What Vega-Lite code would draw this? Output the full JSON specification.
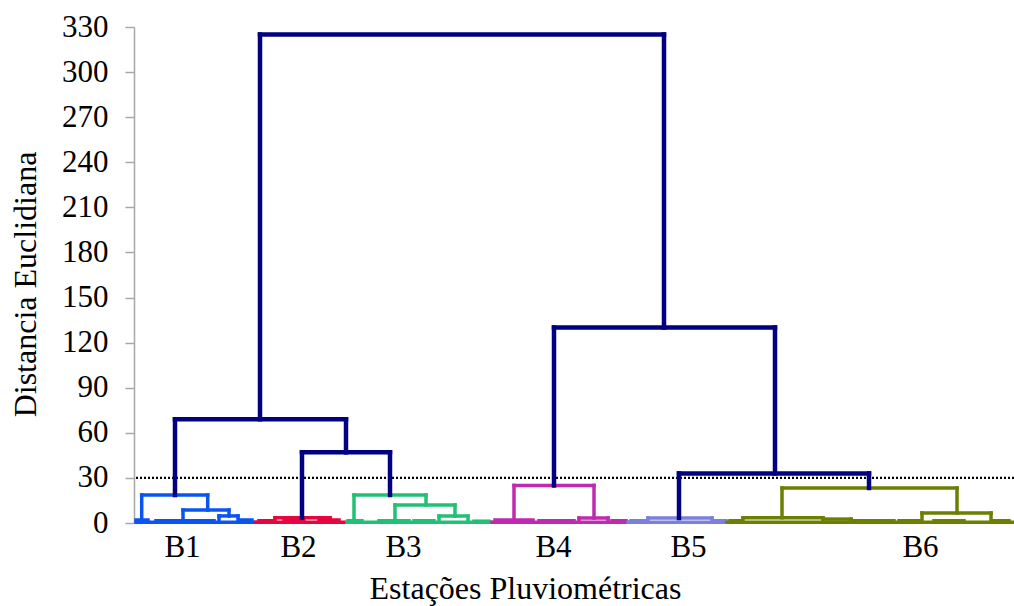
{
  "$schema": "https://vega.github.io/schema/vega-lite/v6.json",
  "width": 880,
  "height": 496,
  "autosize": "none",
  "padding": {"left": 134, "top": 27, "right": 0, "bottom": 83},
  "background": "white",
  "config": {
    "view": {"stroke": null},
    "font": "Liberation Serif",
    "axis": {"labelFont": "Liberation Serif", "titleFont": "Liberation Serif", "labelColor": "black", "titleColor": "black", "titleFontWeight": "normal", "grid": false}
  },
  "datasets": {
    "segs": [
      {"g":"main","x":126,"x2":530,"y":325,"y2":325},
      {"g":"main","x":126,"x2":126,"y":325,"y2":69},
      {"g":"main","x":530,"x2":530,"y":325,"y2":130},
      {"g":"main","x":41,"x2":212,"y":69,"y2":69},
      {"g":"main","x":41,"x2":41,"y":69,"y2":18.6},
      {"g":"main","x":212,"x2":212,"y":69,"y2":47},
      {"g":"main","x":168,"x2":256,"y":47,"y2":47},
      {"g":"main","x":168,"x2":168,"y":47,"y2":3.5},
      {"g":"main","x":256,"x2":256,"y":47,"y2":18.6},
      {"g":"main","x":420,"x2":641,"y":130,"y2":130},
      {"g":"main","x":420,"x2":420,"y":130,"y2":25},
      {"g":"main","x":641,"x2":641,"y":130,"y2":33},
      {"g":"main","x":545,"x2":735,"y":33,"y2":33},
      {"g":"main","x":545,"x2":545,"y":33,"y2":3.3},
      {"g":"main","x":735,"x2":735,"y":33,"y2":23.3},

      {"g":"B1","x":2,"x2":122,"y":0.5,"y2":0.5},
      {"g":"B1","x":7.7,"x2":73.7,"y":18.6,"y2":18.6},
      {"g":"B1","x":7.7,"x2":7.7,"y":18.6,"y2":2},
      {"g":"B1","x":73.7,"x2":73.7,"y":18.6,"y2":8.6},
      {"g":"B1","x":49,"x2":95,"y":8.6,"y2":8.6},
      {"g":"B1","x":49,"x2":49,"y":8.6,"y2":1.5},
      {"g":"B1","x":95,"x2":95,"y":8.6,"y2":4.7},
      {"g":"B1","x":85,"x2":104,"y":4.7,"y2":4.7},
      {"g":"B1","x":85,"x2":85,"y":4.7,"y2":1},
      {"g":"B1","x":104,"x2":104,"y":4.7,"y2":1},
      {"g":"B1","x":2,"x2":14,"y":2,"y2":2},
      {"g":"B1","x":22,"x2":40,"y":1.5,"y2":1.5},
      {"g":"B1","x":40,"x2":62,"y":1.5,"y2":1.5},
      {"g":"B1","x":62,"x2":80,"y":1.5,"y2":1.5},
      {"g":"B1","x":106,"x2":118,"y":2,"y2":2},

      {"g":"B2","x":122,"x2":213,"y":0.5,"y2":0.5},
      {"g":"B2","x":141,"x2":196,"y":3.5,"y2":3.5},
      {"g":"B2","x":141,"x2":141,"y":3.5,"y2":1},
      {"g":"B2","x":196,"x2":196,"y":3.5,"y2":1},
      {"g":"B2","x":125,"x2":138,"y":1.5,"y2":1.5},
      {"g":"B2","x":150,"x2":170,"y":1.5,"y2":1.5},
      {"g":"B2","x":185,"x2":205,"y":2,"y2":2},

      {"g":"B3","x":213,"x2":358,"y":0.5,"y2":0.5},
      {"g":"B3","x":220,"x2":292,"y":18.6,"y2":18.6},
      {"g":"B3","x":220,"x2":220,"y":18.6,"y2":1},
      {"g":"B3","x":292,"x2":292,"y":18.6,"y2":12},
      {"g":"B3","x":261,"x2":321,"y":12,"y2":12},
      {"g":"B3","x":261,"x2":261,"y":12,"y2":1},
      {"g":"B3","x":321,"x2":321,"y":12,"y2":4.6},
      {"g":"B3","x":305,"x2":334,"y":4.6,"y2":4.6},
      {"g":"B3","x":305,"x2":305,"y":4.6,"y2":1},
      {"g":"B3","x":334,"x2":334,"y":4.6,"y2":1},
      {"g":"B3","x":214,"x2":228,"y":1.5,"y2":1.5},
      {"g":"B3","x":245,"x2":275,"y":1.5,"y2":1.5},
      {"g":"B3","x":280,"x2":300,"y":1.5,"y2":1.5},
      {"g":"B3","x":340,"x2":355,"y":1.2,"y2":1.2},

      {"g":"B4","x":358,"x2":494,"y":0.5,"y2":0.5},
      {"g":"B4","x":380,"x2":460,"y":25,"y2":25},
      {"g":"B4","x":380,"x2":380,"y":25,"y2":2},
      {"g":"B4","x":460,"x2":460,"y":25,"y2":3.3},
      {"g":"B4","x":361,"x2":399,"y":2,"y2":2},
      {"g":"B4","x":445,"x2":474,"y":3.3,"y2":3.3},
      {"g":"B4","x":445,"x2":445,"y":3.3,"y2":1},
      {"g":"B4","x":474,"x2":474,"y":3.3,"y2":1},
      {"g":"B4","x":405,"x2":440,"y":1.5,"y2":1.5},
      {"g":"B4","x":478,"x2":492,"y":1.5,"y2":1.5},

      {"g":"B5","x":494,"x2":593,"y":0.5,"y2":0.5},
      {"g":"B5","x":514,"x2":578,"y":3.3,"y2":3.3},
      {"g":"B5","x":514,"x2":514,"y":3.3,"y2":1},
      {"g":"B5","x":578,"x2":578,"y":3.3,"y2":1},
      {"g":"B5","x":497,"x2":512,"y":1.5,"y2":1.5},
      {"g":"B5","x":580,"x2":592,"y":1.5,"y2":1.5},

      {"g":"B6","x":593,"x2":880,"y":0.5,"y2":0.5},
      {"g":"B6","x":648,"x2":823,"y":23.3,"y2":23.3},
      {"g":"B6","x":648,"x2":648,"y":23.3,"y2":3.5},
      {"g":"B6","x":823,"x2":823,"y":23.3,"y2":6.7},
      {"g":"B6","x":609,"x2":689,"y":3.5,"y2":3.5},
      {"g":"B6","x":609,"x2":609,"y":3.5,"y2":1},
      {"g":"B6","x":689,"x2":689,"y":3.5,"y2":1},
      {"g":"B6","x":689,"x2":717,"y":2.6,"y2":2.6},
      {"g":"B6","x":717,"x2":717,"y":2.6,"y2":1},
      {"g":"B6","x":788,"x2":857,"y":6.7,"y2":6.7},
      {"g":"B6","x":788,"x2":788,"y":6.7,"y2":1},
      {"g":"B6","x":857,"x2":857,"y":6.7,"y2":1},
      {"g":"B6","x":596,"x2":608,"y":1.5,"y2":1.5},
      {"g":"B6","x":720,"x2":760,"y":1.5,"y2":1.5},
      {"g":"B6","x":765,"x2":785,"y":1.5,"y2":1.5},
      {"g":"B6","x":800,"x2":830,"y":1.5,"y2":1.5},
      {"g":"B6","x":858,"x2":875,"y":1.5,"y2":1.5}
    ],
    "cut": [{"y": 30}]
  },
  "layer": [
    {
      "data": {"name": "cut"},
      "mark": {"type": "rule", "color": "black", "strokeWidth": 2.2, "strokeDash": [2, 2]},
      "encoding": {
        "y": {"field": "y", "type": "quantitative", "scale": {"domain": [0, 330], "nice": false}}
      }
    },
    {
      "data": {"name": "segs"},
      "transform": [{"filter": "datum.g != 'main'"}],
      "mark": {"type": "rule", "strokeWidth": 3.5, "strokeCap": "square"},
      "encoding": {
        "x": {"field": "x", "type": "quantitative"},
        "x2": {"field": "x2"},
        "y": {"field": "y", "type": "quantitative"},
        "y2": {"field": "y2"},
        "color": {"field": "g", "type": "nominal", "legend": null,
          "scale": {"domain": ["main","B1","B2","B3","B4","B5","B6"], "range": ["#000080","#0a55f0","#e8053f","#20c075","#c02ab0","#7a80dc","#6b8000"]}}
      }
    },
    {
      "data": {"name": "segs"},
      "transform": [{"filter": "datum.g == 'main'"}],
      "mark": {"type": "rule", "strokeWidth": 4.5, "strokeCap": "square"},
      "encoding": {
        "x": {"field": "x", "type": "quantitative",
          "scale": {"domain": [0, 880], "nice": false, "zero": false},
          "axis": {"title": "Estações Pluviométricas", "domain": false, "ticks": false,
            "values": [48, 164, 269, 419, 554, 786],
            "labelExpr": "datum.value == 48 ? 'B1' : datum.value == 164 ? 'B2' : datum.value == 269 ? 'B3' : datum.value == 419 ? 'B4' : datum.value == 554 ? 'B5' : 'B6'",
            "labelFontSize": 31, "labelPadding": 9, "labelFlush": false,
            "titleFontSize": 32, "titleX": 391, "titleY": 75, "titleBaseline": "alphabetic"}},
        "x2": {"field": "x2"},
        "y": {"field": "y", "type": "quantitative",
          "scale": {"domain": [0, 330], "nice": false},
          "axis": {"title": "Distancia Euclidiana", "values": [0,30,60,90,120,150,180,210,240,270,300,330],
            "domainColor": "#a8a8a8", "domainWidth": 1.5, "tickColor": "#a8a8a8", "tickWidth": 1.5, "tickSize": 9,
            "labelFontSize": 31, "labelPadding": 17, "labelFlush": false,
            "titleFontSize": 32, "titleX": -99, "titleY": 257, "titleBaseline": "alphabetic", "titleAngle": 270}},
        "y2": {"field": "y2"},
        "color": {"field": "g", "type": "nominal", "legend": null}
      }
    }
  ]
}
